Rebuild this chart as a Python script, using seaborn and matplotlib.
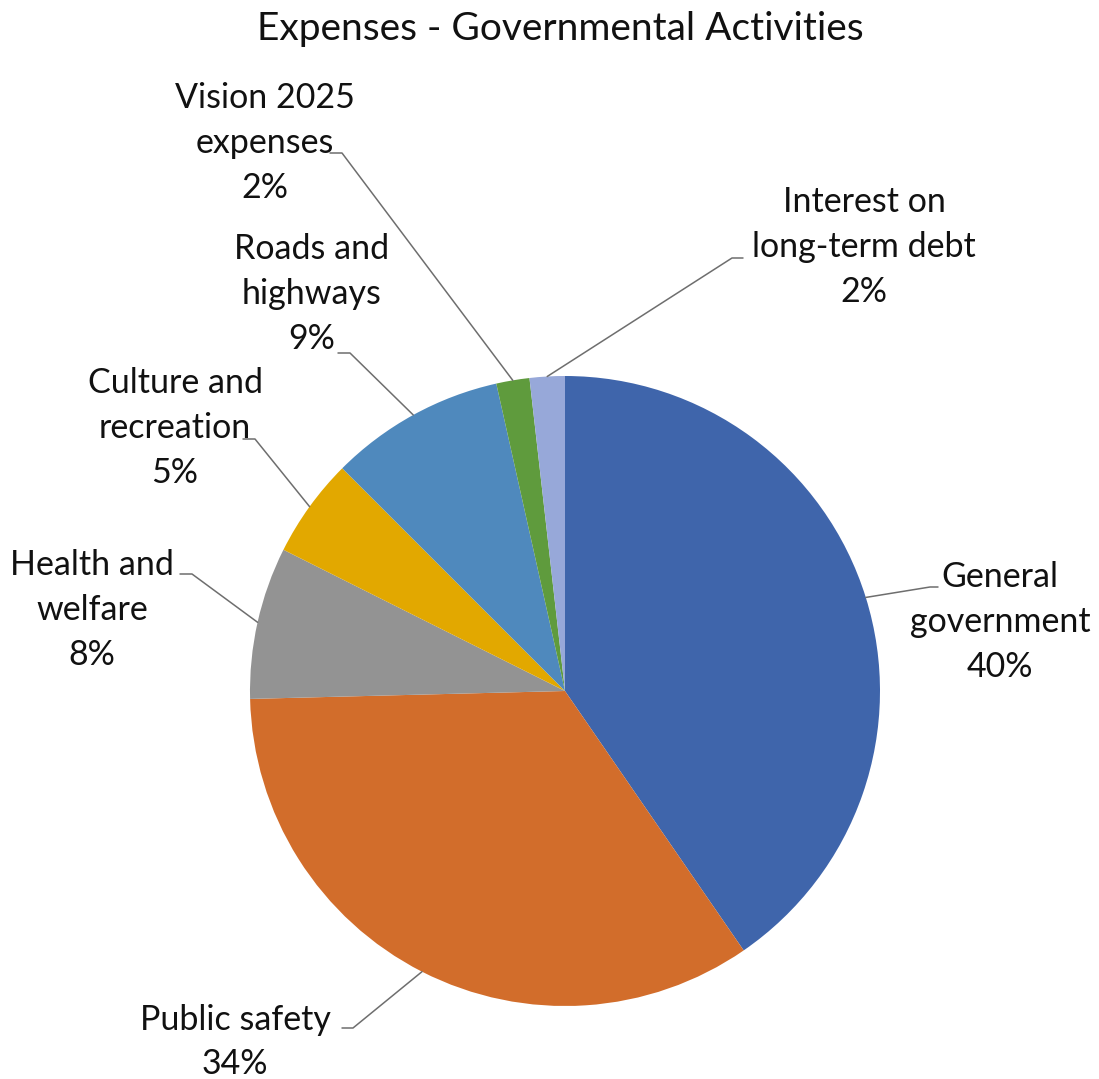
import matplotlib
matplotlib.use("Agg")
import matplotlib.pyplot as plt
import seaborn as sns
import numpy as np

sns.set_theme(style="white")
plt.rcParams['font.family'] = ['Lato', 'DejaVu Sans']

# ---- data ----
categories = ["General\ngovernment", "Public safety", "Health and\nwelfare",
              "Culture and\nrecreation", "Roads and\nhighways",
              "Vision 2025\nexpenses", "Interest on\nlong-term debt"]
values = [40.4, 34.2, 7.8, 5.1, 9.0, 1.7, 1.8]
colors = ["#3F65AB", "#D26D2B", "#939393", "#E2A800", "#4F89BD", "#5F9B3D", "#97A8D9"]
title = "Expenses - Governmental Activities"

# ---- layout (pixels) ----
W, H = 1099, 1079
CX, CY, R = 565, 691, 315
label_pos = [(1000, 622), (235, 1042), (92, 610), (175, 428), (312, 294), (265, 143), (864, 247)]
# (text-side end of leader, elbow)
leader_pts = [((938, 587), (930, 587)), ((342, 1028), (353, 1028)), ((180, 574), (192, 574)),
              ((243, 439), (255, 439)), ((338, 353), (350, 353)), ((330, 153), (342, 153)),
              ((743, 258), (732, 258))]


def px(p):
    return ((p[0] - CX) / R, (CY - p[1]) / R)


fig = plt.figure(figsize=(W / 100, H / 100), dpi=100)
ax = fig.add_axes([0, 0, 1, 1])
wedges, _ = ax.pie(values, colors=colors, startangle=90, counterclock=False,
                   radius=1, wedgeprops=dict(linewidth=0))
ax.set_xlim(-CX / R, (W - CX) / R)
ax.set_ylim(-(H - CY) / R, CY / R)
ax.set_aspect('equal')
ax.axis('off')

total = sum(values)
for w, lab, v, lp, (tend, elbow) in zip(wedges, categories, values, label_pos, leader_pts):
    ang = np.deg2rad((w.theta1 + w.theta2) / 2)
    edge = (np.cos(ang), np.sin(ang))
    e = px(elbow)
    t = px(tend)
    ax.plot([edge[0], e[0], t[0]], [edge[1], e[1], t[1]], color="#6E6E6E", lw=1.1)
    pct = f"{round(v / total * 100)}%"
    x, y = px(lp)
    ax.text(x, y, f"{lab}\n{pct}", ha="center", va="center", fontsize=24.5,
            color="#111111", linespacing=1.5)

fig.text(560 / W, 1 - 29 / H, title, ha="center", va="center", fontsize=28, color="#111111")

fig.savefig("out.png", dpi=100, facecolor="white")
